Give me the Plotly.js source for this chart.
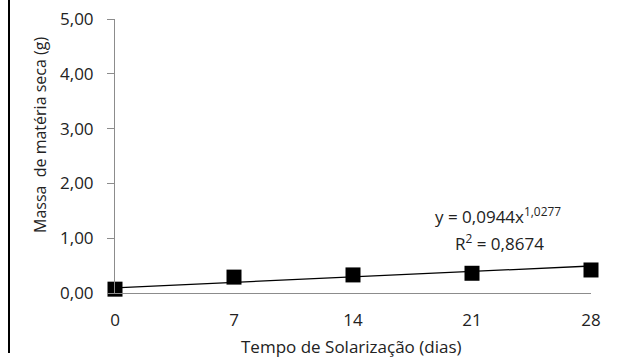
<!DOCTYPE html>
<html>
<head>
<meta charset="utf-8">
<script src="https://cdn.plot.ly/plotly-3.0.1.min.js"></script>
<style>html,body{margin:0;padding:0;background:#fff;}#chart{width:627px;height:359px;}</style>
</head>
<body>
<div id="chart"></div>
<script>
const days = [0, 7, 14, 21, 28];
const massa = [0.07, 0.29, 0.33, 0.36, 0.42];
const trend = [0.094, 0.193, 0.292, 0.392, 0.493];
const yTicks = [0, 1, 2, 3, 4, 5];
const xTicks = [0, 7, 14, 21, 28];
const eqText = "y = 0,0944x<sup>1,0277</sup>";
const r2Text = "R<sup>2</sup> = 0,8674";
const xTitle = "Tempo de Solarização (dias)";
const yTitle = "Massa\u00a0 de matéria seca (g)";

const F = "Open Sans, Noto Sans, sans-serif";
const pw = 627 - 115 - 36, ph = 359 - 19 - 66;
const data = [
  {x: days, y: trend, mode: "lines", line: {color: "#000", width: 1.3}, hoverinfo: "skip", cliponaxis: false},
  {x: days, y: massa, mode: "markers", marker: {symbol: "square", size: 15, color: "#000"}, cliponaxis: false}
];
const layout = {
  width: 627, height: 359,
  margin: {l: 115, r: 36, t: 19, b: 66},
  paper_bgcolor: "#fff", plot_bgcolor: "#fff",
  showlegend: false,
  separators: ",.",
  font: {family: F, size: 17, color: "#222"},
  xaxis: {
    range: [0, 28], tickvals: xTicks, showgrid: false, zeroline: false,
    showline: true, linecolor: "#8c8c8c", linewidth: 1, ticks: "",
    tickfont: {family: F, size: 17, color: "#222"}, ticklabelstandoff: 12
  },
  yaxis: {
    range: [0, 5], tickvals: yTicks, tickformat: ".2f", showgrid: false, zeroline: false,
    showline: true, linecolor: "#8c8c8c", linewidth: 1, ticks: "outside", ticklen: 7, tickcolor: "#8c8c8c",
    tickfont: {family: F, size: 17, color: "#222"}, ticklabelstandoff: 10
  },
  annotations: [
    {x: 22.5, y: 1.42, xref: "x", yref: "y", text: eqText, showarrow: false, font: {family: F, size: 17, color: "#222"}},
    {x: 22.6, y: 0.93, xref: "x", yref: "y", text: r2Text, showarrow: false, font: {family: F, size: 17, color: "#222"}},
    {x: (40 - 115) / pw, y: (359 - 66 - 135) / ph, xref: "paper", yref: "paper", text: yTitle, textangle: -90,
     xanchor: "center", yanchor: "middle", showarrow: false, font: {family: F, size: 16, color: "#222"}},
    {x: (351 - 115) / pw, y: (293 - 346) / ph, xref: "paper", yref: "paper", text: xTitle,
     xanchor: "center", yanchor: "middle", showarrow: false, font: {family: F, size: 17, color: "#222"}}
  ],
  shapes: [
    {type: "line", xref: "paper", yref: "paper", x0: (9 - 115) / pw, x1: (9 - 115) / pw,
     y0: (293 - 353) / ph, y1: (293 + 19) / ph, line: {color: "#000", width: 2}}
  ]
};
Plotly.newPlot("chart", data, layout, {displayModeBar: false, staticPlot: true});
</script>
</body>
</html>
